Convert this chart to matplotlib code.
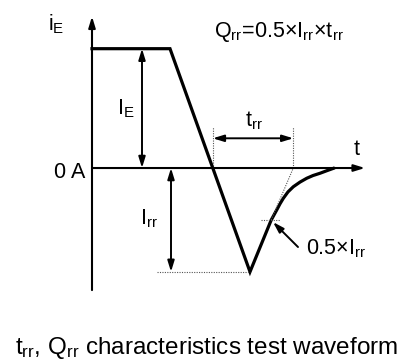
import matplotlib
matplotlib.use('Agg')
import matplotlib.pyplot as plt

plt.rcParams['font.family'] = ['Liberation Sans', 'DejaVu Sans']
plt.rcParams['mathtext.fontset'] = 'custom'
plt.rcParams['mathtext.rm'] = 'Liberation Sans'
plt.rcParams['mathtext.it'] = 'Liberation Sans'

# ==========================================
# waveform (t arbitrary units, i normalised to I_E)
# ==========================================
I_E = 1.0
I_RR = 0.87
T_ZERO = 12.08
T_PEAK = 15.8
T_RR_END = 20.13

wave_t = [0.0, 7.8, 15.8, 17.92, 18.47, 18.8, 19.13, 19.6, 20.13, 20.8, 21.47, 22.1, 22.8, 23.5, 24.13]
wave_i = [1.0, 1.0, -0.87, -0.436, -0.352, -0.300, -0.254, -0.200, -0.157, -0.118, -0.086, -0.063, -0.044, -0.022, -0.003]

half_t = 17.92
half_i = -I_RR / 2

AXIS_T_END = 27.3
AXIS_I_TOP = 1.27
AXIS_I_BOTTOM = -1.023

fig = plt.figure(figsize=(4.06, 3.63), dpi=100)
ax = fig.add_axes([0, 0, 1, 1])
ax.set_xlim(-9.2, 31.4)
ax.set_ylim(-1.634, 1.408)
ax.axis('off')


def arrow(x0, y0, x1, y1, style='-|>', lw=1.5):
    ax.annotate('', xy=(x1, y1), xytext=(x0, y0),
                arrowprops=dict(arrowstyle=style + ',head_length=0.65,head_width=0.2',
                                lw=lw, color='black', shrinkA=0, shrinkB=0,
                                mutation_scale=10))


# axes
arrow(0, AXIS_I_BOTTOM, 0, AXIS_I_TOP)
arrow(0, 0, AXIS_T_END, 0)

# waveform
ax.plot(wave_t, wave_i, color='black', lw=2.3, solid_joinstyle='miter')

# dotted guide lines
dot = dict(color='#555555', lw=0.8, ls=(0, (1, 1.2)))
ax.plot([6.5, T_PEAK], [-I_RR, -I_RR], **dot)
ax.plot([16.9, 18.8], [half_i, half_i], **dot)
ax.plot([half_t, T_RR_END], [half_i, 0], **dot)
ax.plot([T_ZERO, T_ZERO], [0, 0.346], **dot)
ax.plot([T_RR_END, T_RR_END], [0, 0.346], **dot)

# dimension arrows
arrow(5.0, 0, 5.0, I_E, style='<|-|>', lw=1.4)
arrow(7.9, 0, 7.9, -I_RR, style='<|-|>', lw=1.4)
arrow(T_ZERO, 0.249, T_RR_END, 0.249, style='<|-|>', lw=1.4)
arrow(20.6, -0.662, 18.1, -0.453, lw=1.4)

# labels
fs = 15.5
ax.text(-4.4, 1.157, r'$\mathregular{i_E}$', fontsize=fs, ha='left', va='baseline')
ax.text(2.5, 0.45, r'$\mathregular{I_E}$', fontsize=fs, ha='left', va='baseline')
ax.text(4.8, -0.469, r'$\mathregular{I_{rr}}$', fontsize=fs, ha='left', va='baseline')
ax.text(-0.7, -0.084, '0 A', fontsize=fs, ha='right', va='baseline')
ax.text(26.2, 0.109, 't', fontsize=fs, ha='left', va='baseline')
ax.text(15.3, 0.352, r'$\mathregular{t_{rr}}$', fontsize=fs, ha='left', va='baseline')
ax.text(12.2, 1.10, r'$\mathregular{Q_{rr}}\text{=0.5×}\mathregular{I_{rr}}\text{×}\mathregular{t_{rr}}$',
        fontsize=fs, ha='left', va='baseline')
ax.text(21.4, -0.721, r'$\text{0.5×}\mathregular{I_{rr}}$', fontsize=fs,
        ha='left', va='baseline')

fig.text(15 / 406, 1 - 354 / 363,
         r'$\mathregular{t_{rr}}$, $\mathregular{Q_{rr}}$ characteristics test waveform',
         fontsize=17.5, ha='left', va='baseline')

fig.savefig('out.png', dpi=100)
